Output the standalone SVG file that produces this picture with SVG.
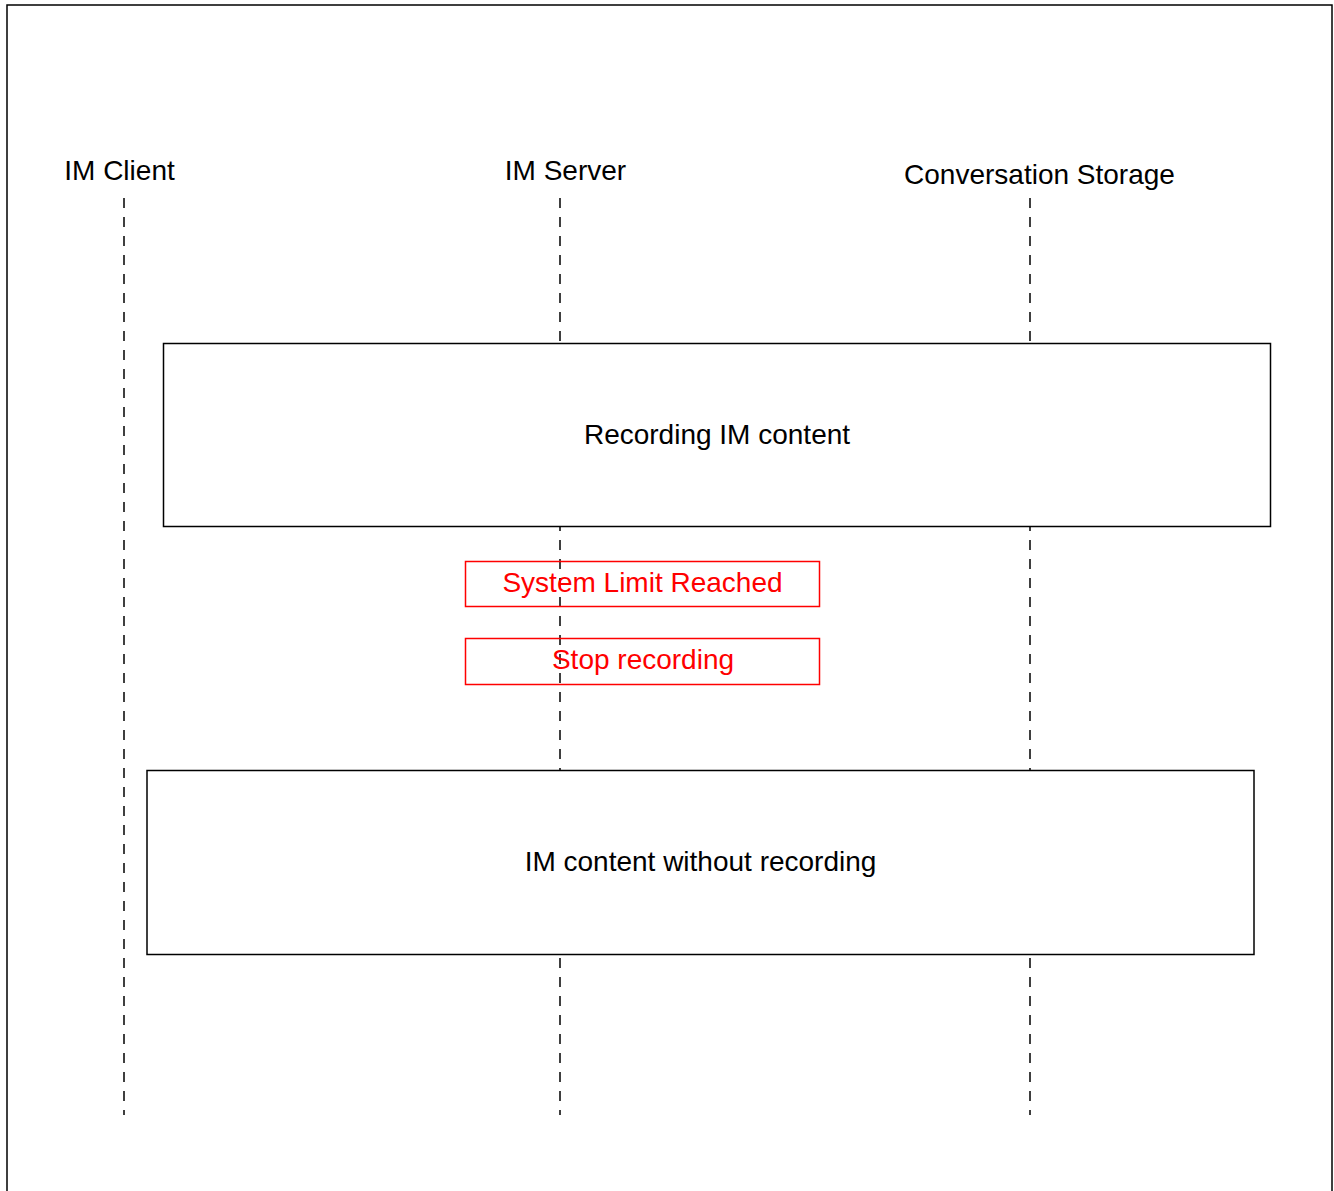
<svg xmlns="http://www.w3.org/2000/svg" width="1334" height="1191" viewBox="0 0 1334 1191">
<style>
text{font-family:"Liberation Sans",Arial,sans-serif;font-size:28px;text-anchor:middle}
.life{stroke:#000;stroke-width:1.5;stroke-dasharray:10 9;fill:none}
.box{fill:#fff;stroke:#000;stroke-width:1.5}
.note{fill:none;stroke:#f00;stroke-width:1.5}
.red{fill:#f00}
</style>
<rect x="0" y="0" width="1334" height="1191" fill="#fff"/>
<rect x="7" y="5" width="1325" height="1195" fill="none" stroke="#000" stroke-width="1.5"/>
<g id="lifelines">
<line class="life" x1="124" y1="198" x2="124" y2="1115"/>
<line class="life" x1="560" y1="198" x2="560" y2="1115"/>
<line class="life" x1="1030" y1="198" x2="1030" y2="1115"/>
</g>
<g id="client"><text x="119.5" y="180">IM Client</text></g>
<g id="server"><text x="565.5" y="180">IM Server</text></g>
<g id="storage"><text x="1039.5" y="184">Conversation Storage</text></g>
<g id="recording"><rect class="box" x="163.5" y="343.5" width="1107" height="183"/><text x="717" y="444">Recording IM content</text></g>
<g id="limit"><rect class="note" x="465.5" y="561.5" width="354" height="45"/><text class="red" x="642.5" y="592">System Limit Reached</text></g>
<g id="stop"><rect class="note" x="465.5" y="638.5" width="354" height="46"/><text class="red" x="643" y="669">Stop recording</text></g>
<g id="norecord"><rect class="box" x="147" y="770.5" width="1107" height="184"/><text x="700.5" y="871">IM content without recording</text></g>
</svg>
